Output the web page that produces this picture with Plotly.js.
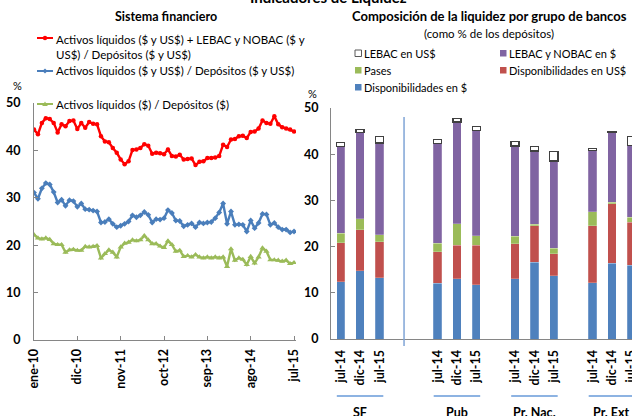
<!DOCTYPE html>
<html>
<head>
<meta charset="utf-8">
<script src="https://cdn.plot.ly/plotly-3.0.1.min.js"></script>
<style>
html,body{margin:0;padding:0;overflow:hidden;background:#fff;}
#chart{width:700px;height:416px;}
</style>
</head>
<body>
<div id="chart"></div>
<script>
// ---------- DATA ----------
// Left chart: monthly series, ene-10 .. jul-15
const monthNames = ['ene','feb','mar','abr','may','jun','jul','ago','sep','oct','nov','dic'];
const startYear = 2010, nMonths = 67;
const xTickLabels = ['ene-10','dic-10','nov-11','oct-12','sep-13','ago-14','jul-15'];

const liqLebacTotal = [44.4,43.4,45.8,46.8,46.6,45.8,43.8,45.5,45.1,46.2,46.3,44.5,45.8,44.8,46.0,45.6,45.5,43.0,41.9,41.7,
  40.5,39.5,38.1,37.1,37.7,40.1,40.2,40.5,41.3,41.0,39.3,39.5,39.4,39.2,40.2,38.8,38.7,39.1,38.1,38.2,
  38.3,36.9,37.6,37.7,38.4,38.4,38.5,38.8,41.2,40.7,42.3,42.4,43.0,43.1,42.6,43.9,44.0,44.6,46.3,45.8,
  45.6,47.2,45.5,44.9,44.6,44.4,44.0];
const liqTotal = [31.1,29.8,32.0,33.1,32.8,31.2,29.0,29.6,28.3,29.5,29.3,28.1,28.8,27.6,27.5,27.3,27.1,24.8,24.9,25.5,
  24.5,23.8,24.1,24.5,25.0,26.3,25.9,26.3,27.0,26.4,24.8,25.5,25.4,25.7,27.4,26.8,25.2,25.1,24.0,24.3,
  24.6,23.8,24.8,24.6,24.8,24.9,25.7,26.9,28.8,24.5,27.1,24.3,24.4,24.3,22.9,25.2,23.6,24.7,26.6,26.5,
  24.3,24.7,23.8,23.3,23.3,22.7,22.9];
const liqPesos = [22.2,21.5,21.3,21.5,21.2,20.3,20.1,20.1,18.5,19.0,19.1,18.9,18.9,19.7,19.6,19.7,19.9,17.3,18.2,19.0,
  18.5,17.5,19.6,20.4,20.6,21.1,20.9,21.1,22.0,21.1,20.3,20.3,19.8,19.5,20.9,20.1,18.7,18.9,17.6,17.8,
  17.5,18.0,17.5,17.3,17.5,17.3,17.5,17.3,17.5,15.5,19.2,16.8,17.3,17.0,15.9,17.6,16.2,17.5,19.4,18.7,
  16.9,16.9,16.8,16.6,16.8,16.1,16.3];

const lineNames = [
  'Activos líquidos ($ y US$) + LEBAC y NOBAC ($ y<br>US$) / Depósitos ($ y US$)',
  'Activos líquidos ($ y US$) / Depósitos ($ y US$)',
  'Activos líquidos ($) / Depósitos ($)'
];

// Right chart: composition by bank group (segments, % of deposits)
const groups  = ['SF','Pub','Pr. Nac.','Pr. Ext'];
const periods = ['jul-14','dic-14','jul-15'];
const dispPesos   = [12.4,14.8,13.3, 12.1,13.0,11.7, 13.0,16.6,13.7, 12.2,16.4,16.0];
const dispDolares = [ 8.4, 8.9, 7.8,  6.8, 7.3, 8.6,  7.6, 7.9, 4.8, 12.3,12.9, 9.3];
const pases       = [ 2.1, 2.3, 1.5,  1.8, 4.7, 2.0,  1.6, 0.3, 1.1,  3.0, 0.3, 1.1];
const lebacPesos  = [18.7,18.7,19.8, 21.6,22.0,22.9, 19.6,15.9,18.9, 13.3,15.1,15.5];
const lebacUSD    = [ 1.0, 0.7, 1.4,  0.9, 0.8, 0.8,  1.0, 0.9, 2.1,  0.5, 0.2, 1.9];
const barNames = ['Disponibilidades en $','Disponibilidades en US$','Pases','LEBAC y NOBAC en $','LEBAC en US$'];

// ---------- STYLE / LAYOUT HELPERS ----------
const W = 700, H = 416;
const px = x => x / W;
const py = y => 1 - y / H;
const FONT = 'Lato, "Open Sans", sans-serif';
const RED = '#FF0000', BLUE = '#4A7EBB', GREEN = '#9BBB59';
const C_BLUE = '#4F81BD', C_RED = '#C0504D', C_GREEN = '#9BBB59', C_PURP = '#8064A2';
const AXC = '#868686';

const months = [];
for (let i = 0; i < nMonths; i++) {
  const m = i % 12, y = startYear + Math.floor(i / 12);
  months.push(monthNames[m] + '-' + String(y).slice(2));
}
const xIdx = months.map((_, i) => i);
const tickIdx = xTickLabels.map(l => months.indexOf(l));

// bar slot positions: gap slots before each group
const gapBefore = [0, 2, 1, 1];
const barX = [], barTickVals = [], barTickText = [], groupCenters = [], groupSpans = [];
let slot = 0;
groups.forEach((g, gi) => {
  slot += gapBefore[gi];
  const first = slot;
  periods.forEach(p => { barX.push(slot); barTickVals.push(slot); barTickText.push(p); slot++; });
  groupCenters.push((first + slot - 1) / 2);
  groupSpans.push([first - 0.2, slot - 1 + 0.2]);
});

const traces = [
  {x: xIdx, y: liqLebacTotal, type:'scatter', mode:'lines+markers', name: lineNames[0],
   line:{color:RED, width:2.4}, marker:{symbol:'circle', size:4.5, color:RED}, xaxis:'x', yaxis:'y'},
  {x: xIdx, y: liqTotal, type:'scatter', mode:'lines+markers', name: lineNames[1],
   line:{color:BLUE, width:2.4}, marker:{symbol:'diamond', size:4.5, color:BLUE}, xaxis:'x', yaxis:'y'},
  {x: xIdx, y: liqPesos, type:'scatter', mode:'lines+markers', name: lineNames[2],
   line:{color:GREEN, width:2.4}, marker:{symbol:'triangle-up', size:5.5, color:GREEN}, xaxis:'x', yaxis:'y'},
];
const barSeries = [dispPesos, dispDolares, pases, lebacPesos, lebacUSD];
const barColors = [C_BLUE, C_RED, C_GREEN, C_PURP, '#FFFFFF'];
barSeries.forEach((vals, k) => {
  traces.push({
    x: barX, y: vals, type:'bar', name: barNames[k], xaxis:'x2', yaxis:'y2', width:0.42,
    marker:{color: barColors[k], line: k === 4 ? {color:'#404040', width:1.3} : {color:'rgba(255,255,255,0.35)', width:0.6}}
  });
});

const tickFontB = {family: FONT, size: 12.5, color:'#000', weight: 700};

const shapes = [];
const annotations = [];

// left legend (line + marker symbols)
const legRowsY = [38, 71, 104];
const legColors = [RED, BLUE, GREEN];
legRowsY.forEach((yy, k) => {
  shapes.push({type:'line', xref:'paper', yref:'paper', x0:px(37), x1:px(53), y0:py(yy), y1:py(yy), line:{color:legColors[k], width:2}});
});
shapes.push({type:'circle', xref:'paper', yref:'paper', x0:px(42.8), x1:px(47.2), y0:py(40.2), y1:py(35.8), fillcolor:RED, line:{width:0}});
shapes.push({type:'path', xref:'paper', yref:'paper', path:`M${px(45)},${py(68.5)} L${px(47.5)},${py(71)} L${px(45)},${py(73.5)} L${px(42.5)},${py(71)} Z`, fillcolor:BLUE, line:{width:0}});
shapes.push({type:'path', xref:'paper', yref:'paper', path:`M${px(45)},${py(101.5)} L${px(47.8)},${py(106)} L${px(42.2)},${py(106)} Z`, fillcolor:GREEN, line:{width:0}});

annotations.push({xref:'paper', yref:'paper', x:px(54), y:py(31), xanchor:'left', yanchor:'top', align:'left',
  text: lineNames[0], showarrow:false, font:{family:FONT, size:11.5, color:'#000'}});
annotations.push({xref:'paper', yref:'paper', x:px(54), y:py(71), xanchor:'left', yanchor:'middle', align:'left',
  text: lineNames[1], showarrow:false, font:{family:FONT, size:11.5, color:'#000'}});
annotations.push({xref:'paper', yref:'paper', x:px(54), y:py(104), xanchor:'left', yanchor:'middle', align:'left',
  text: lineNames[2], showarrow:false, font:{family:FONT, size:11.5, color:'#000'}});

// right legend (squares)
const rLeg = [
  {name: barNames[4], color:'#FFFFFF', x:355, y:53},
  {name: barNames[3], color:C_PURP, x:500, y:53},
  {name: barNames[2], color:C_GREEN, x:355, y:70},
  {name: barNames[1], color:C_RED, x:500, y:70},
  {name: barNames[0], color:C_BLUE, x:355, y:87},
];
rLeg.forEach(it => {
  shapes.push({type:'rect', xref:'paper', yref:'paper', x0:px(it.x), x1:px(it.x+6.5), y0:py(it.y+3.5), y1:py(it.y-3),
    fillcolor: it.color, line: it.color === '#FFFFFF' ? {color:'#595959', width:1} : {width:0}});
  annotations.push({xref:'paper', yref:'paper', x:px(it.x+7), y:py(it.y), xanchor:'left', yanchor:'middle',
    text: it.name, showarrow:false, font:{family:FONT, size:11, color:'#000'}});
});

// titles
annotations.push({xref:'paper', yref:'paper', x:px(328), y:py(-3), xanchor:'center', yanchor:'middle',
  text:'Indicadores de Liquidez', showarrow:false, font:{family:FONT, size:15, color:'#000', weight:700}});
annotations.push({xref:'paper', yref:'paper', x:px(166), y:py(17), xanchor:'center', yanchor:'middle',
  text:'Sistema financiero', showarrow:false, font:{family:FONT, size:12.5, color:'#000', weight:700}});
annotations.push({xref:'paper', yref:'paper', x:px(490), y:py(16), xanchor:'center', yanchor:'middle',
  text:'Composición de la liquidez por grupo de bancos', showarrow:false, font:{family:FONT, size:13, color:'#000', weight:700}});
annotations.push({xref:'paper', yref:'paper', x:px(489), y:py(33), xanchor:'center', yanchor:'middle',
  text:'(como % de los depósitos)', showarrow:false, font:{family:FONT, size:11.5, color:'#000'}});
annotations.push({xref:'paper', yref:'paper', x:px(17), y:py(86), xanchor:'center', yanchor:'middle',
  text:'%', showarrow:false, font:{family:FONT, size:11, color:'#000'}});
annotations.push({xref:'paper', yref:'paper', x:px(312), y:py(93), xanchor:'center', yanchor:'middle',
  text:'%', showarrow:false, font:{family:FONT, size:11, color:'#000'}});

// separator between SF and the groups
shapes.push({type:'line', xref:'x2', yref:'paper', x0:3.27, x1:3.27, y0:py(346), y1:py(117), line:{color:'#7FA4D6', width:1.5}});

// group underlines and labels
groups.forEach((g, gi) => {
  shapes.push({type:'line', xref:'x2', yref:'paper', x0:groupSpans[gi][0], x1:groupSpans[gi][1], y0:py(396), y1:py(396),
    line:{color:'#8DB3E2', width:2}});
  annotations.push({xref:'x2', yref:'paper', x:groupCenters[gi], y:py(412), xanchor:'center', yanchor:'middle',
    text:g, showarrow:false, font:{family:FONT, size:12.5, color:'#000', weight:700}});
});

const layout = {
  width: W, height: H,
  margin: {l:0, r:0, t:0, b:0},
  paper_bgcolor:'#fff', plot_bgcolor:'rgba(0,0,0,0)',
  showlegend: false,
  barmode: 'stack',
  bargap: 0,
  font: {family: FONT, color:'#000'},
  xaxis: {domain:[px(34), px(296)], range:[0, 66.5], showgrid:false, zeroline:false,
    showline:true, linecolor:AXC, linewidth:1, ticks:'inside', ticklen:4, tickcolor:AXC,
    tickvals: tickIdx, ticktext: xTickLabels, tickangle:-90, tickfont: tickFontB, ticklabelstandoff: 3},
  yaxis: {domain:[py(340), py(103)], range:[0, 50], dtick:10, showgrid:false, zeroline:false,
    showline:true, linecolor:AXC, linewidth:1, ticks:'inside', ticklen:4, tickcolor:AXC,
    tickfont: tickFontB, ticklabelstandoff: 10},
  xaxis2: {domain:[px(331), px(641)], range:[-0.5, 15.5], showgrid:false, zeroline:false,
    showline:true, linecolor:AXC, linewidth:1, ticks:'', tickvals: barTickVals, ticktext: barTickText,
    tickangle:-90, tickfont: tickFontB, ticklabelstandoff: 5, anchor:'y2'},
  yaxis2: {domain:[py(339), py(108)], range:[0, 50], dtick:10, showgrid:false, zeroline:false,
    showline:true, linecolor:AXC, linewidth:1, ticks:'inside', ticklen:4, tickcolor:AXC,
    tickfont: tickFontB, ticklabelstandoff: 9, anchor:'x2'},
  shapes: shapes,
  annotations: annotations
};

Plotly.newPlot('chart', traces, layout, {staticPlot:true, displayModeBar:false});
</script>
</body>
</html>
